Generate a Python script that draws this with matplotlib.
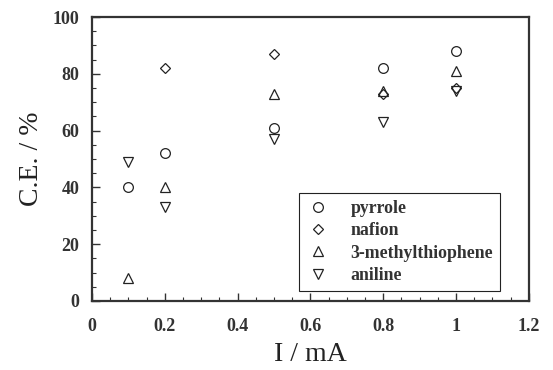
import matplotlib
matplotlib.use("Agg")
import matplotlib.pyplot as plt
from matplotlib.ticker import MultipleLocator

current = [0.1, 0.2, 0.5, 0.8, 1.0]
pyrrole = [40, 52, 61, 82, 88]
nafion = [None, 82, 87, 73, 75]
methylthiophene = [8, 40, 73, 74, 81]
aniline = [49, 33, 57, 63, 74]

series = [
    ("pyrrole", pyrrole, "o", 7),
    ("nafion", nafion, "D", 5),
    ("3-methylthiophene", methylthiophene, "^", 7),
    ("aniline", aniline, "v", 7),
]

plt.rcParams["font.family"] = "Liberation Serif"

fig = plt.figure(figsize=(5.53, 3.70), dpi=100)
ax = fig.add_axes([0.1664, 0.1865, 0.79, 0.7675])

for name, vals, marker, ms in series:
    xs = [x for x, v in zip(current, vals) if v is not None]
    ys = [v for v in vals if v is not None]
    ax.plot(xs, ys, linestyle="none", marker=marker, markersize=ms,
            markerfacecolor="none", markeredgecolor="#222222",
            markeredgewidth=0.9, label=name)

ax.set_xlim(0, 1.2)
ax.set_ylim(0, 100)
ax.xaxis.set_major_locator(MultipleLocator(0.2))
ax.xaxis.set_minor_locator(MultipleLocator(0.05))
ax.yaxis.set_major_locator(MultipleLocator(20))
ax.yaxis.set_minor_locator(MultipleLocator(5))
ax.set_xticks([0, 0.2, 0.4, 0.6, 0.8, 1.0, 1.2])
ax.set_xticklabels(["0", "0.2", "0.4", "0.6", "0.8", "1", "1.2"])

ax.tick_params(which="both", direction="in", top=False, right=False,
               color="#333333")
ax.tick_params(which="major", length=6, width=1)
ax.tick_params(which="minor", length=3, width=0.8)
ax.tick_params(axis="x", pad=12, labelsize=13)
ax.tick_params(axis="y", pad=9, labelsize=13)
for lab in ax.get_xticklabels() + ax.get_yticklabels():
    lab.set_fontweight("bold")
    lab.set_color("#333333")

for sp in ax.spines.values():
    sp.set_linewidth(1.6)
    sp.set_color("#333333")

ax.set_xlabel("I / mA", fontsize=20, color="#222222", labelpad=5)
ax.set_ylabel("C.E. / %", fontsize=20, color="#222222", labelpad=6)

leg = ax.legend(loc="lower right", bbox_to_anchor=(0.934, 0.035),
                borderaxespad=0,
                prop={"weight": "bold", "size": 12.8}, frameon=True,
                fancybox=False, edgecolor="#222222", framealpha=1,
                handletextpad=1.1, borderpad=0.4, labelspacing=0.3,
                handlelength=1.4)
leg.get_frame().set_linewidth(0.8)
for t in leg.get_texts():
    t.set_color("#333333")

fig.savefig("out.png", dpi=100)
